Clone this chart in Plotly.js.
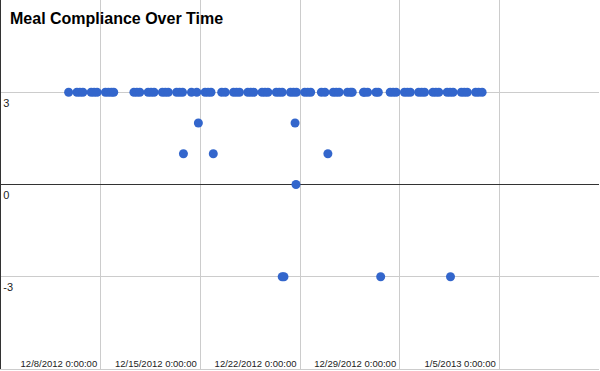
<!DOCTYPE html>
<html>
<head>
<meta charset="utf-8">
<script src="https://cdn.plot.ly/plotly-3.0.1.min.js"></script>
<style>html,body{margin:0;padding:0;background:#fff;}#chart{width:600px;height:371px;}</style>
</head>
<body>
<div id="chart"></div>
<script>
// Meal timestamps and compliance scores (parallel arrays)
const mealTimes = [
  "2012-12-05 18:00","2012-12-06 08:00","2012-12-06 13:00","2012-12-06 18:00",
  "2012-12-07 08:00","2012-12-07 13:00","2012-12-07 18:00",
  "2012-12-08 08:00","2012-12-08 13:00","2012-12-08 18:00","2012-12-08 22:00",
  "2012-12-10 08:00","2012-12-10 13:00","2012-12-10 18:00",
  "2012-12-11 08:00","2012-12-11 13:00","2012-12-11 18:00",
  "2012-12-12 08:00","2012-12-12 13:00","2012-12-12 18:00",
  "2012-12-13 08:00","2012-12-13 13:00","2012-12-13 18:00",
  "2012-12-14 09:00","2012-12-14 18:00",
  "2012-12-15 08:00","2012-12-15 13:00","2012-12-15 18:00",
  "2012-12-16 12:00","2012-12-16 18:00",
  "2012-12-17 08:00","2012-12-17 13:00","2012-12-17 18:00",
  "2012-12-18 08:00","2012-12-18 13:00","2012-12-18 18:00",
  "2012-12-19 08:00","2012-12-19 13:00","2012-12-19 18:00",
  "2012-12-20 08:00","2012-12-20 13:00","2012-12-20 18:00",
  "2012-12-21 08:00","2012-12-21 13:00","2012-12-21 18:00",
  "2012-12-22 08:00","2012-12-22 13:00","2012-12-22 18:00",
  "2012-12-23 12:00","2012-12-23 18:00",
  "2012-12-24 08:00","2012-12-24 13:00","2012-12-24 18:00",
  "2012-12-25 08:00","2012-12-25 13:00","2012-12-25 16:00",
  "2012-12-26 11:00","2012-12-26 13:00","2012-12-26 18:00",
  "2012-12-27 08:00","2012-12-27 12:00",
  "2012-12-28 08:00","2012-12-28 13:00","2012-12-28 18:00",
  "2012-12-29 08:00","2012-12-29 13:00","2012-12-29 18:00",
  "2012-12-30 08:00","2012-12-30 13:00","2012-12-30 18:00",
  "2012-12-31 08:00","2012-12-31 13:00","2012-12-31 18:00",
  "2013-01-01 08:00","2013-01-01 13:00","2013-01-01 18:00",
  "2013-01-02 08:00","2013-01-02 13:00","2013-01-02 18:00",
  "2013-01-03 08:00","2013-01-03 13:00","2013-01-03 19:00",
  "2012-12-13 19:30","2012-12-14 20:40","2012-12-15 21:50",
  "2012-12-20 18:00","2012-12-20 21:00",
  "2012-12-21 15:40","2012-12-21 17:15",
  "2012-12-23 23:00","2012-12-27 16:00","2013-01-01 13:40"
];
const complianceScores = [
  3,3,3,3, 3,3,3, 3,3,3,3,
  3,3,3, 3,3,3, 3,3,3, 3,3,3,
  3,3, 3,3,3,
  3,3, 3,3,3, 3,3,3, 3,3,3, 3,3,3, 3,3,3, 3,3,3,
  3,3, 3,3,3, 3,3,3,
  3,3,3, 3,3,
  3,3,3, 3,3,3, 3,3,3, 3,3,3, 3,3,3, 3,3,3, 3,3,3,
  1,2,1,
  -3,-3,
  2,0,
  1,-3,-3
];
const xTickVals = ["2012-12-08","2012-12-15","2012-12-22","2012-12-29","2013-01-05","2013-01-12"];
const xTickLabels = ["12/8/2012 0:00:00","12/15/2012 0:00:00","12/22/2012 0:00:00","12/29/2012 0:00:00","1/5/2013 0:00:00",""];
const yTickVals = [-3, 0, 3];
const yTickLabels = ["-3", "0", "3"];

const trace = {
  x: mealTimes,
  y: complianceScores,
  type: "scatter",
  mode: "markers",
  marker: {color: "#3366cc", size: 9},
  hoverinfo: "none"
};

const layout = {
  width: 600, height: 371,
  margin: {l: 1, r: 1, t: 0, b: 2, pad: 0},
  paper_bgcolor: "#fff", plot_bgcolor: "#fff",
  showlegend: false,
  font: {family: "Liberation Sans, Arial, sans-serif"},
  title: {
    text: "<b>Meal Compliance Over Time</b>",
    font: {family: "Liberation Sans, Arial, sans-serif", size: 16, color: "#000"},
    xref: "container", x: 10/600, xanchor: "left",
    yref: "container", y: 1 - 18/371, yanchor: "middle"
  },
  xaxis: {
    type: "date",
    range: ["2012-12-01", "2013-01-12"],
    tickmode: "array", tickvals: xTickVals, ticktext: xTickLabels,
    ticklabelposition: "inside left",
    ticklabelshift: -3, ticklabelstandoff: -4,
    ticks: "", showgrid: true, gridcolor: "#cccccc", gridwidth: 1,
    showline: true, linecolor: "#cccccc", linewidth: 1,
    zeroline: false,
    tickfont: {size: 9.5, color: "#222"},
    fixedrange: true
  },
  yaxis: {
    range: [-6, 6],
    tickmode: "array", tickvals: yTickVals, ticktext: yTickLabels,
    ticklabelposition: "inside bottom",
    ticklabelshift: 3, ticklabelstandoff: 1,
    ticks: "", showgrid: true, gridcolor: "#cccccc", gridwidth: 1,
    zeroline: true, zerolinecolor: "#333333", zerolinewidth: 1,
    showline: true, linecolor: "#333333", linewidth: 1,
    tickfont: {size: 11, color: "#222"},
    fixedrange: true
  }
};

Plotly.newPlot("chart", [trace], layout, {displayModeBar: false, staticPlot: true});
</script>
</body>
</html>
